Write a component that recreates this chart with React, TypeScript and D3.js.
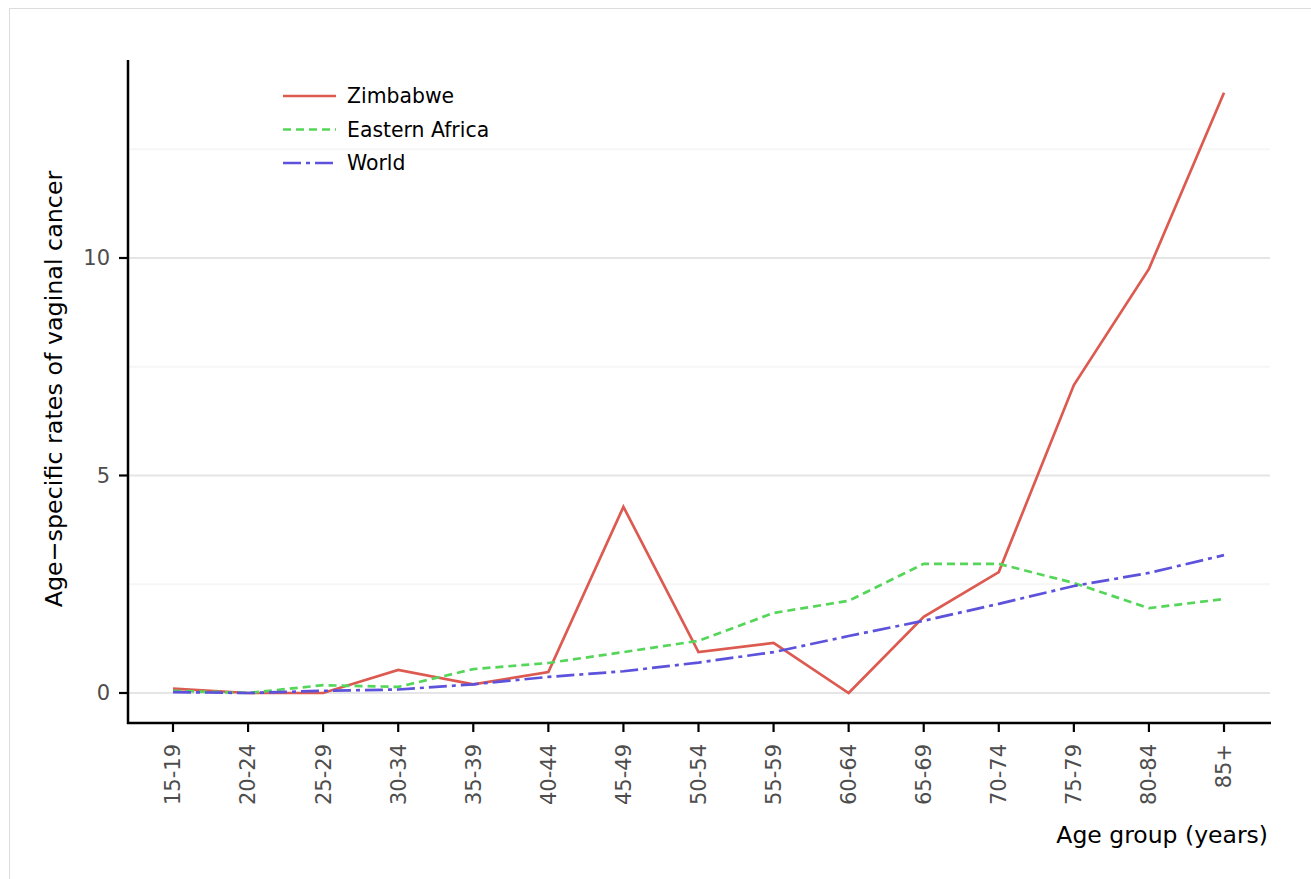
import React from "react";
import * as d3 from "d3";

const ageGroups = ["15-19","20-24","25-29","30-34","35-39","40-44","45-49","50-54","55-59","60-64","65-69","70-74","75-79","80-84","85+"];
const zimbabwe = [0.1,0,0,0.53,0.2,0.48,4.28,0.94,1.15,0,1.75,2.78,7.08,9.75,13.8];
const easternAfrica = [0.05,0,0.18,0.14,0.55,0.69,0.94,1.2,1.84,2.12,2.97,2.97,2.53,1.95,2.16];
const world = [0.02,0,0.05,0.08,0.2,0.37,0.5,0.7,0.94,1.31,1.66,2.05,2.46,2.76,3.17];
const majorTicks = [0,5,10];
const minorTicks = [2.5,7.5,12.5];

const seriesList = [
  { name: "Zimbabwe", values: zimbabwe, color: "#dc5a50", dash: "" },
  { name: "Eastern Africa", values: easternAfrica, color: "#55d65a", dash: "8,5" },
  { name: "World", values: world, color: "#5c52dc", dash: "18,5,4,5" },
];

const FONT = "'DejaVu Sans', sans-serif";

export default function App() {
  const left = 128, right = 1270, top = 60, bottom = 723;
  const x = d3.scalePoint<string>().domain(ageGroups).range([173, 1224]);
  const y = d3.scaleLinear().domain([0, 10]).range([693, 258]);
  const line = d3.line<number>().x((_, i) => x(ageGroups[i]) as number).y((d) => y(d));

  return (
    <svg width={1311} height={879} style={{ position: "absolute", left: 0, top: 0 }} fontFamily={FONT}>
      <rect x={9.5} y={8.5} width={1400} height={1000} fill="#fff" stroke="#dddddd" strokeWidth={1} />
      {minorTicks.map((t) => (
        <line key={"mi" + t} x1={left} x2={right} y1={y(t)} y2={y(t)} stroke="#f6f6f6" strokeWidth={2} />
      ))}
      {majorTicks.map((t) => (
        <line key={"ma" + t} x1={left} x2={right} y1={y(t)} y2={y(t)} stroke="#e5e5e5" strokeWidth={2} />
      ))}
      {seriesList.map((s) => (
        <path key={s.name} d={line(s.values) || ""} fill="none" stroke={s.color} strokeWidth={2.7} strokeDasharray={s.dash || undefined} />
      ))}
      {/* axes */}
      <line x1={left} x2={left} y1={top} y2={bottom + 1} stroke="#000" strokeWidth={2.5} />
      <line x1={left - 1} x2={right + 1} y1={bottom} y2={bottom} stroke="#000" strokeWidth={2.5} />
      {majorTicks.map((t) => (
        <g key={"yt" + t}>
          <line x1={119} x2={left} y1={y(t)} y2={y(t)} stroke="#000" strokeWidth={2.2} />
          <text x={110} y={y(t)} dy="0.35em" textAnchor="end" fontSize={21} fill="#4d4d4d">{t}</text>
        </g>
      ))}
      {ageGroups.map((g) => (
        <g key={"xt" + g}>
          <line x1={x(g)} x2={x(g)} y1={bottom} y2={bottom + 9} stroke="#000" strokeWidth={2.2} />
          <text transform={`translate(${x(g)},744) rotate(-90)`} textAnchor="end" dy="0.35em" fontSize={21} fill="#4d4d4d">{g}</text>
        </g>
      ))}
      <text x={1268} y={843} textAnchor="end" fontSize={23.5} fill="#000">Age group (years)</text>
      <text transform="translate(62,389) rotate(-90)" textAnchor="middle" fontSize={23.8} fill="#000">Age−specific rates of vaginal cancer</text>
      {/* legend */}
      {seriesList.map((s, i) => (
        <g key={"lg" + s.name} transform={`translate(0,${96 + i * 33.5})`}>
          <line x1={283} x2={336} y1={0} y2={0} stroke={s.color} strokeWidth={2.7} strokeDasharray={s.dash || undefined} />
          <text x={347} y={0} dy="0.35em" fontSize={20.4} fill="#000">{s.name}</text>
        </g>
      ))}
    </svg>
  );
}
